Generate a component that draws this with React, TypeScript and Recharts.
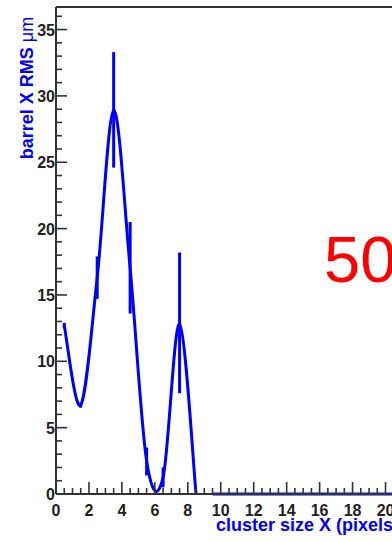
import { LineChart, Line, XAxis, YAxis, ErrorBar, ReferenceLine } from "recharts";

// RMS per cluster-size bin (bin centres), with asymmetric error bars
const binCenters = [0.5, 1.5, 2.5, 3.5, 4.5, 5.5, 6.5, 7.5, 8.5];
const rmsValues = [12.7, 6.7, 16.3, 28.9, 17.0, 2.5, 1.25, 12.8, 0];
const rmsErrLow = [0.2, 0.2, 1.6, 4.3, 3.4, 1.1, 0.75, 5.2, 0];
const rmsErrHigh = [0.2, 0.2, 1.6, 4.4, 3.5, 1.0, 0.75, 5.4, 0];

// empty bins drawn flat on zero
const emptyBins = [9.5, 10.5, 11.5, 12.5, 13.5, 14.5, 15.5, 16.5, 17.5, 18.5, 19.5, 20.5];
const emptyValues = [0, 0, 0, 0, 0, 0, 0, 0, 0, 0, 0, 0];

const xLabels = [0, 2, 4, 6, 8, 10, 12, 14, 16, 18, 20];
const yLabels = [0, 5, 10, 15, 20, 25, 30, 35];

const X_MAX = 21;
const Y_MAX = 36.7;

const mainData = binCenters.map((x, i) => ({
  x,
  rms: rmsValues[i],
  err: [rmsErrLow[i], rmsErrHigh[i]],
}));
const emptyData = emptyBins.map((x, i) => ({ x, rms: emptyValues[i] }));

// tick positions: minor every 0.5 on x, every 1 on y
const xTicks: number[] = [];
for (let i = 0; i <= X_MAX * 2; i++) xTicks.push(i / 2);
const yTicks: number[] = [];
for (let i = 0; i <= 36; i++) yTicks.push(i);

const FONT = "'Liberation Sans', Arial, sans-serif";
const AXIS = "#333";
const BLUE = "#0000ff";

// uniform Catmull-Rom spline through the points (d3 curve factory interface)
function catmullRom(context: any) {
  let pts: [number, number][] = [];
  return {
    areaStart() {},
    areaEnd() {},
    lineStart() {
      pts = [];
    },
    lineEnd() {
      const n = pts.length;
      if (!n) return;
      context.moveTo(pts[0][0], pts[0][1]);
      for (let i = 0; i < n - 1; i++) {
        const p0 = pts[Math.max(0, i - 1)];
        const p1 = pts[i];
        const p2 = pts[i + 1];
        const p3 = pts[Math.min(n - 1, i + 2)];
        context.bezierCurveTo(
          p1[0] + (p2[0] - p0[0]) / 6,
          p1[1] + (p2[1] - p0[1]) / 6,
          p2[0] - (p3[0] - p1[0]) / 6,
          p2[1] - (p3[1] - p1[1]) / 6,
          p2[0],
          p2[1]
        );
      }
    },
    point(x: number, y: number) {
      pts.push([+x, +y]);
    },
  };
}

const XTick = (props: any) => {
  const { x, y, payload } = props;
  const v = payload.value;
  const major = xLabels.includes(v);
  return (
    <g>
      <line x1={x} x2={x} y1={y} y2={y - (major ? 12 : 6)} stroke={AXIS} strokeWidth={1.6} />
      {major && (
        <text x={x} y={y + 22} textAnchor="middle" fontFamily={FONT} fontSize={16} fontWeight="bold" fill="#222">
          {v}
        </text>
      )}
    </g>
  );
};

const YTick = (props: any) => {
  const { x, y, payload } = props;
  const v = payload.value;
  const major = yLabels.includes(v);
  return (
    <g>
      <line x1={x} x2={x + (major ? 11 : 6)} y1={y} y2={y} stroke={AXIS} strokeWidth={1.6} />
      {major && (
        <text x={x - 1} y={y + 6} textAnchor="end" fontFamily={FONT} fontSize={16} fontWeight="bold" fill="#222">
          {v}
        </text>
      )}
    </g>
  );
};

export default function App() {
  return (
    <div
      style={{
        position: "absolute",
        left: 0,
        top: 0,
        width: 392,
        height: 541,
        overflow: "hidden",
        background: "#fff",
      }}
    >
      <LineChart width={420} height={541} margin={{ top: 7, right: 18, bottom: 0, left: 0 }}>
        <XAxis
          dataKey="x"
          type="number"
          domain={[0, X_MAX]}
          ticks={xTicks}
          interval={0}
          tickSize={0}
          tickMargin={0}
          tick={<XTick />}
          height={47}
          axisLine={{ stroke: AXIS, strokeWidth: 2 }}
          allowDuplicatedCategory={false}
          label={{
            content: () => (
              <text x={399} y={531} textAnchor="end" fontFamily={FONT} fontSize={18} fontWeight="bold" fill={BLUE}>
                cluster size X (pixels)
              </text>
            ),
          }}
        />
        <YAxis
          type="number"
          domain={[0, Y_MAX]}
          ticks={yTicks}
          interval={0}
          tickSize={0}
          tickMargin={0}
          tick={<YTick />}
          width={56}
          axisLine={{ stroke: AXIS, strokeWidth: 2 }}
          label={{
            content: () => (
              <text
                x={33}
                y={88}
                transform="rotate(-90 33 88)"
                textAnchor="middle"
                fontFamily={FONT}
                fontSize={18}
                fontWeight="bold"
                fill={BLUE}
              >
                barrel X RMS <tspan fontWeight="normal">μm</tspan>
              </text>
            ),
          }}
        />
        <ReferenceLine y={Y_MAX} stroke={AXIS} strokeWidth={2} />
        <Line
          data={mainData}
          dataKey="rms"
          type={catmullRom as any}
          stroke={BLUE}
          strokeWidth={3}
          dot={false}
          isAnimationActive={false}
        >
          <ErrorBar dataKey="err" width={0} stroke={BLUE} strokeWidth={3} direction="y" />
        </Line>
        <Line
          data={emptyData}
          dataKey="rms"
          type="linear"
          stroke={BLUE}
          strokeWidth={3}
          dot={false}
          isAnimationActive={false}
        />
      </LineChart>
      <div
        style={{
          position: "absolute",
          left: 324,
          top: 224,
          fontFamily: FONT,
          fontSize: 65,
          lineHeight: "72px",
          color: "#ff0000",
          whiteSpace: "nowrap",
        }}
      >
        50
      </div>
    </div>
  );
}
